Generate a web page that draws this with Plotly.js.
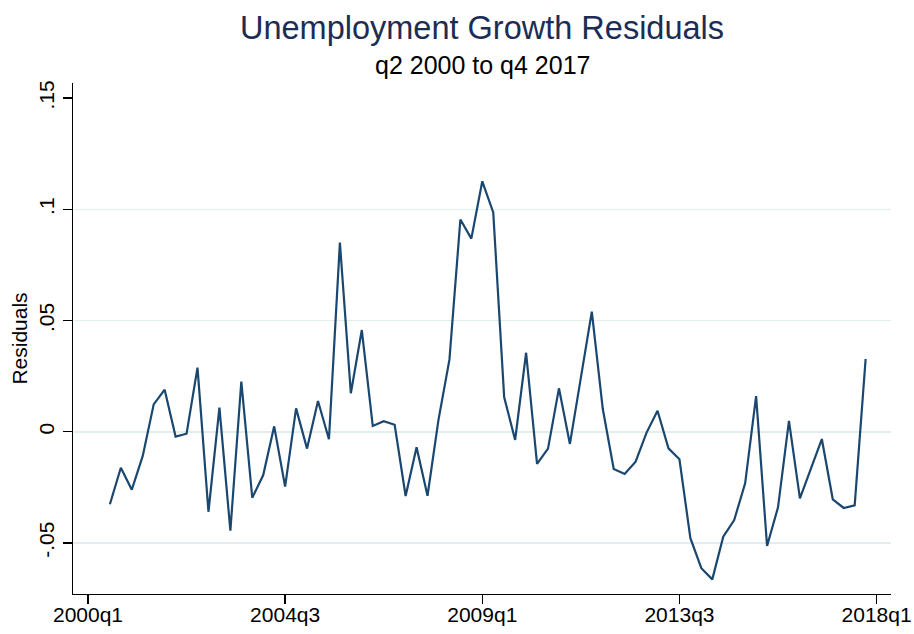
<!DOCTYPE html>
<html>
<head>
<meta charset="utf-8">
<script src="https://cdn.plot.ly/plotly-3.0.1.min.js"></script>
<style>html,body{margin:0;padding:0;background:#fff;}#chart{width:914px;height:634px;}</style>
</head>
<body>
<div id="chart"></div>
<script>
// Quarterly residuals, 2000q3 .. 2017q4
var quarters = [
  "2000q3","2000q4",
  "2001q1","2001q2","2001q3","2001q4",
  "2002q1","2002q2","2002q3","2002q4",
  "2003q1","2003q2","2003q3","2003q4",
  "2004q1","2004q2","2004q3","2004q4",
  "2005q1","2005q2","2005q3","2005q4",
  "2006q1","2006q2","2006q3","2006q4",
  "2007q1","2007q2","2007q3","2007q4",
  "2008q1","2008q2","2008q3","2008q4",
  "2009q1","2009q2","2009q3","2009q4",
  "2010q1","2010q2","2010q3","2010q4",
  "2011q1","2011q2","2011q3","2011q4",
  "2012q1","2012q2","2012q3","2012q4",
  "2013q1","2013q2","2013q3","2013q4",
  "2014q1","2014q2","2014q3","2014q4",
  "2015q1","2015q2","2015q3","2015q4",
  "2016q1","2016q2","2016q3","2016q4",
  "2017q1","2017q2","2017q3","2017q4"
];
var residuals = [
  -0.0326, -0.0162,
  -0.0261, -0.0109, 0.0123, 0.0189,
  -0.0022, -0.0009, 0.0288, -0.0360,
  0.0108, -0.0445, 0.0225, -0.0297,
  -0.0195, 0.0024, -0.0247, 0.0105,
  -0.0076, 0.0138, -0.0034, 0.0850,
  0.0173, 0.0457, 0.0026, 0.0047,
  0.0031, -0.0289, -0.0070, -0.0288,
  0.0053, 0.0324, 0.0954, 0.0868,
  0.1126, 0.0986, 0.0155, -0.0037,
  0.0355, -0.0145, -0.0076, 0.0195,
  -0.0055, 0.0240, 0.0540, 0.0103,
  -0.0168, -0.0190, -0.0135, -0.0004,
  0.0094, -0.0075, -0.0124, -0.0479,
  -0.0614, -0.0664, -0.0472, -0.0397,
  -0.0232, 0.0160, -0.0514, -0.0340,
  0.0049, -0.0300, -0.0165, -0.0033,
  -0.0304, -0.0343, -0.0331, 0.0327
];
var xTickLabels = ["2000q1","2004q3","2009q1","2013q3","2018q1"];
var yTickValues = [-0.05, 0, 0.05, 0.1, 0.15];
var yTickLabels = ["-.05","0",".05",".1",".15"];
var yGridValues = [-0.05, 0, 0.05, 0.1];

function qToNum(s){ var p = s.split("q"); return (+p[0]) + (+p[1]-1)/4; }

var xs = quarters.map(qToNum);
var xTickValues = xTickLabels.map(qToNum);

var font = "Liberation Sans, Arial, Helvetica, sans-serif";

var trace = {
  x: xs, y: residuals, type: "scatter", mode: "lines",
  line: {color: "#1a476f", width: 2.2},
  hoverinfo: "skip"
};
var gridTrace = {x: [], y: [], yaxis: "y2", type: "scatter", mode: "lines", showlegend: false};

var layout = {
  width: 914, height: 634,
  paper_bgcolor: "#ffffff", plot_bgcolor: "#ffffff",
  margin: {l: 73, r: 23, t: 83, b: 40},
  showlegend: false,
  font: {family: font, color: "#000000"},
  title: {
    text: "Unemployment Growth Residuals",
    font: {family: font, size: 32.5, color: "#1c2d55"},
    xref: "paper", x: 0.5, xanchor: "center",
    yref: "container", y: 1 - 28/634, yanchor: "middle"
  },
  annotations: [{
    text: "q2 2000 to q4 2017", showarrow: false,
    xref: "paper", x: 0.5, xanchor: "center",
    yref: "paper", y: 1 + (83 - 65)/511, yanchor: "middle",
    font: {family: font, size: 25, color: "#000000"}
  }],
  xaxis: {
    range: [1999.658, 2018.329],
    tickmode: "array", tickvals: xTickValues, ticktext: xTickLabels,
    showgrid: false, zeroline: false,
    showline: true, linecolor: "#000000", linewidth: 1.3,
    ticks: "outside", ticklen: 9, tickwidth: 1.3, tickcolor: "#000000",
    ticklabelstandoff: -8,
    tickfont: {family: font, size: 21, color: "#000000"}
  },
  yaxis: {
    range: [-0.07298, 0.15679],
    tickmode: "array", tickvals: yTickValues, ticktext: yTickLabels,
    tickangle: -90,
    showgrid: false, zeroline: false,
    showline: true, linecolor: "#000000", linewidth: 1.3,
    ticks: "outside", ticklen: 9, tickwidth: 1.3, tickcolor: "#000000",
    tickfont: {family: font, size: 21, color: "#000000"},
    title: {text: "Residuals", font: {family: font, size: 21, color: "#000000"}, standoff: 2}
  },
  yaxis2: {
    overlaying: "y", range: [-0.07298, 0.15679],
    tickmode: "array", tickvals: yGridValues,
    showticklabels: false, ticks: "", showline: false, zeroline: false,
    showgrid: true, gridcolor: "#e3ecef", gridwidth: 1.6, layer: "below traces"
  }
};

Plotly.newPlot("chart", [gridTrace, trace], layout, {staticPlot: true, displayModeBar: false});
</script>
</body>
</html>
